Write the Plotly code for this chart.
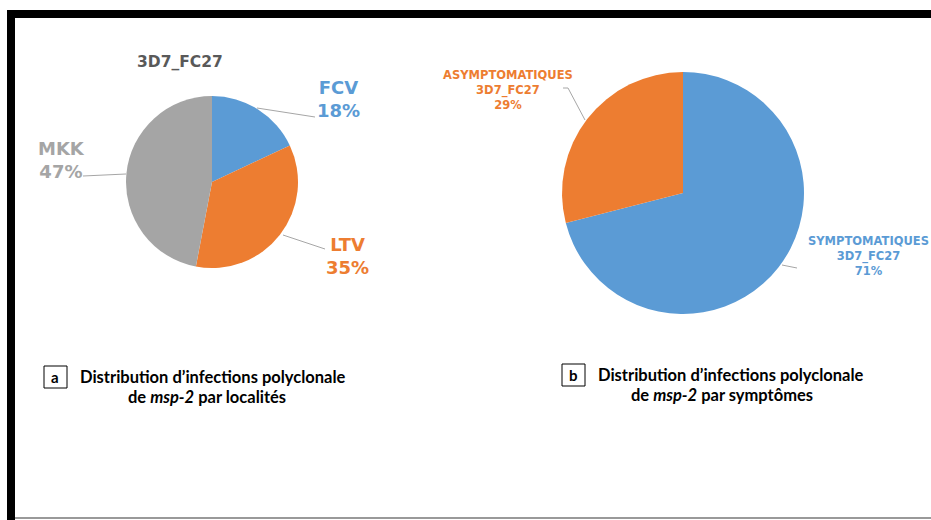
import plotly.graph_objects as go

# ---- data ----
loc_labels = ["FCV", "LTV", "MKK"]
loc_values = [18, 35, 47]
sym_labels = ["SYMPTOMATIQUES", "ASYMPTOMATIQUES"]
sym_values = [71, 29]
sym_sub = "3D7_FC27"
title_a = "3D7_FC27"

BLUE = "#5B9BD5"
ORANGE = "#ED7D31"
GRAY = "#A5A5A5"
loc_colors = [BLUE, ORANGE, GRAY]
sym_colors = [BLUE, ORANGE]

W, H = 931, 520


def px(x):
    return x / W


def py(y):
    return 1 - y / H


fig = go.Figure()

fig.add_trace(go.Pie(
    labels=loc_labels, values=loc_values, sort=False, direction="clockwise",
    rotation=0, textinfo="none", hoverinfo="label+percent",
    marker=dict(colors=loc_colors, line=dict(width=0)),
    domain=dict(x=[px(126), px(298)], y=[py(268), py(96)]),
    showlegend=False,
))

fig.add_trace(go.Pie(
    labels=sym_labels, values=sym_values, sort=False, direction="clockwise",
    rotation=0, textinfo="none", hoverinfo="label+percent",
    marker=dict(colors=sym_colors, line=dict(width=0)),
    domain=dict(x=[px(562), px(804)], y=[py(314), py(72)]),
    showlegend=False,
))

BIG = dict(family="DejaVu Sans", size=18, weight="bold")
SMALL = dict(family="DejaVu Sans", size=11.5, weight="bold")

ann = []


def add_text(x, y, text, font, color, xanchor="center", yanchor="middle", align="center"):
    f = dict(font)
    f["color"] = color
    ann.append(dict(x=px(x), y=py(y), xref="paper", yref="paper", text=text,
                    showarrow=False, font=f, xanchor=xanchor, yanchor=yanchor, align=align))


# pie a labels
add_text(180, 62, title_a, dict(family="DejaVu Sans", size=15.5, weight="bold"), "#595959")
loc_pos = [(338, 99), (347, 256), (61, 160)]
for lab, val, col, (x, y) in zip(loc_labels, loc_values, loc_colors, loc_pos):
    add_text(x, y, f"{lab}<br>{val}%", BIG, col)

# pie b labels
sym_pos = [(868, 256), (508, 90)]
for lab, val, col, (x, y) in zip(sym_labels, sym_values, sym_colors, sym_pos):
    add_text(x, y, f"{lab}<br>{sym_sub}<br>{val}%", SMALL, col)

# captions
CAP = dict(family="Lato", size=16.5, weight="bold")
add_text(55, 377, "a", dict(CAP, size=15), "#000000")
add_text(78, 377, "Distribution d’infections polyclonale", CAP, "#000000", xanchor="left")
add_text(207, 397, "de <i>msp-2</i> par localités", CAP, "#000000")
add_text(573, 375, "b", dict(CAP, size=15), "#000000")
add_text(596, 375, "Distribution d’infections polyclonale", CAP, "#000000", xanchor="left")
add_text(722, 395, "de <i>msp-2</i> par symptômes", CAP, "#000000")

fig.update_layout(annotations=ann)

shapes = []
LEAD = dict(color="#A6A6A6", width=1)


def seg(pts, line=LEAD):
    path = "M " + " L ".join(f"{px(x)},{py(y)}" for x, y in pts)
    shapes.append(dict(type="path", xref="paper", yref="paper", path=path, line=line))


# leader lines
seg([(257, 108), (315, 117)])
seg([(283, 235), (325, 249)])
seg([(126, 174), (83, 176)])
seg([(585, 120), (568, 88), (563, 88)])
seg([(782, 265), (797, 268)])

# caption boxes
for (x0, y0, x1, y1) in [(44, 366, 67, 388), (562, 364, 585, 386)]:
    shapes.append(dict(type="rect", xref="paper", yref="paper",
                       x0=px(x0), x1=px(x1), y0=py(y1), y1=py(y0),
                       line=dict(color="#000000", width=1)))

# frame
shapes.append(dict(type="rect", xref="paper", yref="paper", x0=px(7), x1=px(931),
                   y0=py(18), y1=py(10), fillcolor="#000000", line=dict(width=0), layer="above"))
shapes.append(dict(type="rect", xref="paper", yref="paper", x0=px(7), x1=px(15),
                   y0=py(520), y1=py(10), fillcolor="#000000", line=dict(width=0), layer="above"))
shapes.append(dict(type="line", xref="paper", yref="paper", x0=px(15), x1=px(931),
                   y0=py(518), y1=py(518), line=dict(color="#777777", width=1.5)))

fig.update_layout(
    shapes=shapes,
    width=W, height=H,
    margin=dict(l=0, r=0, t=0, b=0),
    paper_bgcolor="white", plot_bgcolor="white",
)

fig.write_html("out.html", config={"displayModeBar": False},
               post_script="document.body.style.margin='0';document.body.style.overflow='hidden';")
